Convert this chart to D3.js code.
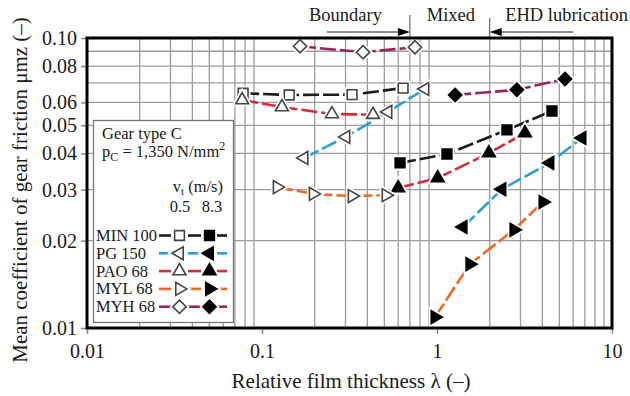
<!DOCTYPE html>
<html>
<head>
<meta charset="utf-8">
<script src="https://cdn.jsdelivr.net/npm/d3@7"></script>
<style>
  body { margin: 0; background: #fff; }
  svg { display: block; font-family: "Liberation Serif", "Times New Roman", Times, serif; }
</style>
</head>
<body>
<div id="chart"></div>
<script>
// lambda / mu pairs
var oils = ['MIN 100', 'PG 150', 'PAO 68', 'MYL 68', 'MYH 68'];
var speeds = ['0.5', '8.3'];

var min100Slow = [[0.078, 0.0645], [0.143, 0.0636], [0.327, 0.0638], [0.64, 0.0672]];
var min100Fast = [[0.615, 0.0371], [1.14, 0.0398], [2.51, 0.0482], [4.54, 0.056]];
var pg150Slow  = [[0.174, 0.0386], [0.302, 0.0456], [0.525, 0.0556], [0.854, 0.0667]];
var pg150Fast  = [[1.41, 0.0223], [2.35, 0.0301], [4.42, 0.0371], [6.74, 0.0452]];
var pao68Slow  = [[0.077, 0.0611], [0.130, 0.0578], [0.251, 0.0547], [0.431, 0.0544]];
var pao68Fast  = [[0.60, 0.0304], [1.01, 0.0329], [1.98, 0.0401], [3.18, 0.047]];
var myl68Slow  = [[0.122, 0.0306], [0.196, 0.029], [0.327, 0.0285], [0.511, 0.0287]];
var myl68Fast  = [[0.974, 0.0109], [1.54, 0.0166], [2.75, 0.0218], [4.03, 0.0272]];
var myh68Slow  = [[0.165, 0.0936], [0.378, 0.0893], [0.748, 0.0929]];
var myh68Fast  = [[1.27, 0.0636], [2.86, 0.0663], [5.39, 0.0722]];

var xTickLabels = ['0.01', '0.1', '1', '10'];
var yTickLabels = ['0.01', '0.02', '0.03', '0.04', '0.05', '0.06', '0.08', '0.10'];

// lubrication regimes along the top
var regimeLabels = ['Boundary', 'Mixed', 'EHD lubrication'];
var regimeLabelAt = [0.3, 1.2, 5.5];
var regimeEdges = [0.7, 2];
var regimeArrowTails = [0.235, 6];

var slowData = [min100Slow, pg150Slow, pao68Slow, myl68Slow, myh68Slow];
var fastData = [min100Fast, pg150Fast, pao68Fast, myl68Fast, myh68Fast];
var oilColors = ['#1c1c1c', '#2d9fd4', '#d92a3a', '#f0691f', '#98245e'];
var oilShapes = ['square', 'left', 'up', 'right', 'diamond'];

var width = 630,
    height = 396,
    plot = { left: 87, right: 612, top: 38, bottom: 328 },
    gridColor = '#9c9c9c',
    svg = null, x = null, y = null;

function init() {
    svg = d3.select('#chart').append('svg')
        .attr('width', width)
        .attr('height', height);
    svg.append('rect').attr('width', width).attr('height', height).attr('fill', '#fff');

    x = d3.scaleLog().domain([0.01, 10]).range([plot.left, plot.right]);
    y = d3.scaleLog().domain([0.01, 0.1]).range([plot.bottom, plot.top]);

    drawGrid();
    drawAxes();
    drawRegimes();
    drawLegend();
    for (var i = 0; i < oils.length; i++) {
        drawSeries(slowData[i], oilColors[i], oilShapes[i], false);
        drawSeries(fastData[i], oilColors[i], oilShapes[i], true);
    }
    // frame on top
    svg.append('rect')
        .attr('x', plot.left).attr('y', plot.top)
        .attr('width', plot.right - plot.left)
        .attr('height', plot.bottom - plot.top)
        .attr('fill', 'none')
        .attr('stroke', '#000')
        .attr('stroke-width', 3);
}

function minorValues(lo, hi) {
    var out = [];
    for (var p = lo; p < hi; p *= 10) {
        for (var k = 2; k <= 9; k++) out.push(+(k * p).toPrecision(2));
    }
    return out;
}

function drawGrid() {
    var g = svg.append('g').attr('class', 'grid');
    g.selectAll('line.vx').data(minorValues(0.01, 10)).enter().append('line')
        .attr('x1', function(d) { return x(d); }).attr('x2', function(d) { return x(d); })
        .attr('y1', plot.top).attr('y2', plot.bottom)
        .attr('stroke', gridColor).attr('stroke-width', 1.3);
    var yGrid = minorValues(0.01, 0.1).filter(function(d) { return d > 0.02; });
    yGrid.unshift(0.02);
    g.selectAll('line.hy').data(yGrid).enter().append('line')
        .attr('x1', plot.left).attr('x2', plot.right)
        .attr('y1', function(d) { return y(d); }).attr('y2', function(d) { return y(d); })
        .attr('stroke', gridColor).attr('stroke-width', 1.3);
}

function drawAxes() {
    var xAxis = d3.axisBottom(x)
        .tickValues(xTickLabels.map(Number))
        .tickFormat(function(d, i) { return xTickLabels[i]; })
        .tickSize(6).tickPadding(10);
    var gx = svg.append('g')
        .attr('transform', 'translate(0,' + plot.bottom + ')')
        .call(xAxis);
    var yAxis = d3.axisLeft(y)
        .tickValues(yTickLabels.map(Number))
        .tickFormat(function(d, i) { return yTickLabels[i]; })
        .tickSize(6).tickPadding(4);
    var gy = svg.append('g')
        .attr('transform', 'translate(' + plot.left + ',0)')
        .call(yAxis);
    [gx, gy].forEach(function(g) {
        g.attr('font-family', null);
        g.select('.domain').remove();
        g.selectAll('.tick line').attr('stroke', '#888').attr('stroke-width', 1.5);
        g.selectAll('.tick text')
            .attr('fill', '#1a1a1a')
            .style('font-size', '20px');
    });

    svg.append('text')
        .attr('x', 351).attr('y', 388)
        .attr('text-anchor', 'middle')
        .attr('fill', '#1a1a1a')
        .style('font-size', '21px')
        .text('Relative film thickness \u03bb (\u2013)');
    svg.append('text')
        .attr('transform', 'translate(27,190) rotate(-90)')
        .attr('text-anchor', 'middle')
        .attr('fill', '#1a1a1a')
        .style('font-size', '21px')
        .text('Mean coefficient of gear friction \u03bcmz (\u2013)');
}

function drawRegimes() {
    var g = svg.append('g').attr('class', 'regimes');
    var ay = 32;
    g.selectAll('text').data(regimeLabels).enter().append('text')
        .attr('x', function(d, i) { return x(regimeLabelAt[i]); })
        .attr('y', 21)
        .attr('text-anchor', 'middle')
        .attr('fill', '#1a1a1a')
        .style('font-size', '18.5px')
        .text(function(d) { return d; });
    regimeEdges.forEach(function(edge, i) {
        var ex = x(edge), tx = x(regimeArrowTails[i]);
        var dir = tx < ex ? 1 : -1;
        g.append('line')
            .attr('x1', ex).attr('x2', ex)
            .attr('y1', i === 0 ? 15 : 18).attr('y2', plot.top)
            .attr('stroke', '#777').attr('stroke-width', 1.3);
        g.append('line')
            .attr('x1', tx).attr('x2', ex - dir * 8)
            .attr('y1', ay).attr('y2', ay)
            .attr('stroke', '#666').attr('stroke-width', 1.3);
        g.append('path')
            .attr('d', 'M' + ex + ',' + ay + 'L' + (ex - dir * 12) + ',' + (ay - 4) +
                       'L' + (ex - dir * 12) + ',' + (ay + 4) + 'Z')
            .attr('fill', '#000');
    });
}

function markerPath(shape) {
    if (shape === 'square') return d3.symbol(d3.symbolSquare, 95)();
    if (shape === 'diamond') return d3.symbol(d3.symbolSquare, 88)();
    return d3.symbol(d3.symbolTriangle, 72)();
}

function markerRotation(shape) {
    if (shape === 'left') return -90;
    if (shape === 'right') return 90;
    if (shape === 'diamond') return 45;
    return 0;
}

function drawMarker(g, cx, cy, shape, filled) {
    var tr = 'translate(' + cx + ',' + cy + ') rotate(' + markerRotation(shape) + ')';
    var d = markerPath(shape);
    g.append('path').attr('d', d).attr('transform', tr)
        .attr('fill', '#fff').attr('stroke', '#fff').attr('stroke-width', 5);
    g.append('path').attr('d', d).attr('transform', tr)
        .attr('fill', filled ? '#000' : '#fff')
        .attr('stroke', filled ? '#000' : '#444')
        .attr('stroke-width', 1.6);
}

function drawSeries(data, color, shape, filled) {
    var g = svg.append('g');
    var line = d3.line()
        .x(function(d) { return x(d[0]); })
        .y(function(d) { return y(d[1]); });
    g.append('path')
        .datum(data)
        .attr('d', line)
        .attr('fill', 'none')
        .attr('stroke', color)
        .attr('stroke-width', 2.6)
        .attr('stroke-dasharray', '16,4');
    data.forEach(function(d) {
        drawMarker(g, x(d[0]), y(d[1]), shape, filled);
    });
}

function drawLegend() {
    var g = svg.append('g').attr('class', 'legend');
    g.append('rect')
        .attr('x', 93.5).attr('y', 120.5)
        .attr('width', 140).attr('height', 202)
        .attr('fill', '#fff')
        .attr('stroke', '#777').attr('stroke-width', 1.3);

    var fs = '16.5px';
    g.append('text').attr('x', 102).attr('y', 139).style('font-size', fs).attr('fill', '#1a1a1a')
        .text('Gear type C');
    var p = g.append('text').attr('x', 102).attr('y', 157).style('font-size', fs).attr('fill', '#1a1a1a');
    p.append('tspan').text('p');
    p.append('tspan').attr('dy', 4).style('font-size', '12px').text('C');
    p.append('tspan').attr('dy', -4).text(' = 1,350 N/mm');
    p.append('tspan').attr('dy', -7).style('font-size', '12px').text('2');

    var v = g.append('text').attr('x', 223).attr('y', 192).attr('text-anchor', 'end')
        .style('font-size', fs).attr('fill', '#1a1a1a');
    v.append('tspan').text('v');
    v.append('tspan').attr('dy', 3).style('font-size', '11px').text('t');
    v.append('tspan').attr('dy', -3).text(' (m/s)');
    g.selectAll('text.speed').data(speeds).enter().append('text')
        .attr('class', 'speed')
        .attr('x', function(d, i) { return i === 0 ? 180 : 212; })
        .attr('y', 212)
        .attr('text-anchor', 'middle')
        .style('font-size', fs).attr('fill', '#1a1a1a')
        .text(function(d) { return d; });

    oils.forEach(function(name, i) {
        var by = 241 + i * 17.8, my = by - 5.5;
        g.append('text').attr('x', 96).attr('y', by).style('font-size', fs).attr('fill', '#1a1a1a')
            .text(name);
        [[159, 171], [188, 201], [217, 227]].forEach(function(seg) {
            g.append('line')
                .attr('x1', seg[0]).attr('x2', seg[1])
                .attr('y1', my).attr('y2', my)
                .attr('stroke', oilColors[i]).attr('stroke-width', 2.6);
        });
        drawMarker(g, 179.5, my, oilShapes[i], false);
        drawMarker(g, 209.5, my, oilShapes[i], true);
    });
}

init();
</script>
</body>
</html>
